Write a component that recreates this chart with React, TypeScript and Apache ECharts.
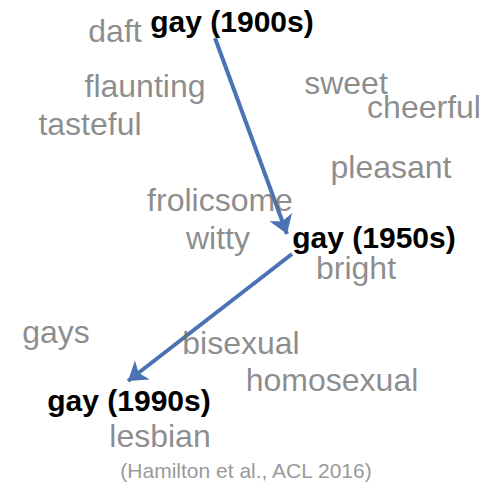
import React, { useEffect, useRef } from "react";
import * as echarts from "echarts";

const grayWords = ["daft", "flaunting", "sweet", "cheerful", "tasteful", "pleasant", "frolicsome", "witty", "bright", "gays", "bisexual", "homosexual", "lesbian"];
const grayX = [115, 145, 346, 424, 90, 391, 220, 218, 356, 56, 241, 332, 160];
const grayY = [31, 86, 83, 107, 124, 167, 200, 238, 268, 332, 343, 380, 436];

const keyWords = ["gay (1900s)", "gay (1950s)", "gay (1990s)"];
const keyX = [232, 374, 129];
const keyY = [21, 237, 400];

const arrowFrom = [[215, 38], [292, 254]];
const arrowTo = [[287, 234], [128, 381]];

const caption = "(Hamilton et al., ACL 2016)";

export default function App() {
  const ref = useRef<HTMLDivElement>(null);
  useEffect(() => {
    document.body.style.margin = "0";
    const chart = echarts.init(ref.current!, null, { renderer: "svg" });
    const font = "'Liberation Sans', Arial, Helvetica, sans-serif";
    chart.setOption({
      animation: false,
      backgroundColor: "#ffffff",
      grid: { left: 0, right: 0, top: 0, bottom: 0 },
      xAxis: { type: "value", min: 0, max: 494, show: false },
      yAxis: { type: "value", min: 0, max: 485, inverse: true, show: false },
      graphic: [
        {
          type: "text",
          left: "center",
          top: 460,
          style: { text: caption, fill: "#9a9a9a", fontSize: 21, fontFamily: font },
        },
      ],
      series: [
        {
          type: "lines",
          coordinateSystem: "cartesian2d",
          z: 1,
          symbol: ["none", "arrow"],
          symbolSize: 18,
          lineStyle: { color: "#4a72b4", width: 4, opacity: 1 },
          data: arrowFrom.map((f, i) => ({ coords: [f, arrowTo[i]] })),
        },
        {
          type: "scatter",
          z: 2,
          symbolSize: 0,
          itemStyle: { color: "transparent", opacity: 1 },
          data: grayWords.map((w, i) => ({ name: w, value: [grayX[i], grayY[i]] })),
          label: {
            show: true,
            position: "inside",
            formatter: "{b}",
            color: "rgba(110,110,110,0.78)",
            textBorderWidth: 0,
            fontSize: 32,
            fontFamily: font,
            align: "center",
            verticalAlign: "middle",
          },
        },
        {
          type: "scatter",
          z: 3,
          symbolSize: 0,
          itemStyle: { color: "transparent", opacity: 1 },
          data: keyWords.map((w, i) => ({ name: w, value: [keyX[i], keyY[i]] })),
          label: {
            show: true,
            position: "inside",
            formatter: "{b}",
            color: "#000000",
            textBorderWidth: 0,
            fontSize: 30,
            fontWeight: "bold",
            fontFamily: font,
            align: "center",
            verticalAlign: "middle",
          },
        },
      ],
    });
    return () => chart.dispose();
  }, []);
  return <div ref={ref} style={{ width: 494, height: 485 }} />;
}
